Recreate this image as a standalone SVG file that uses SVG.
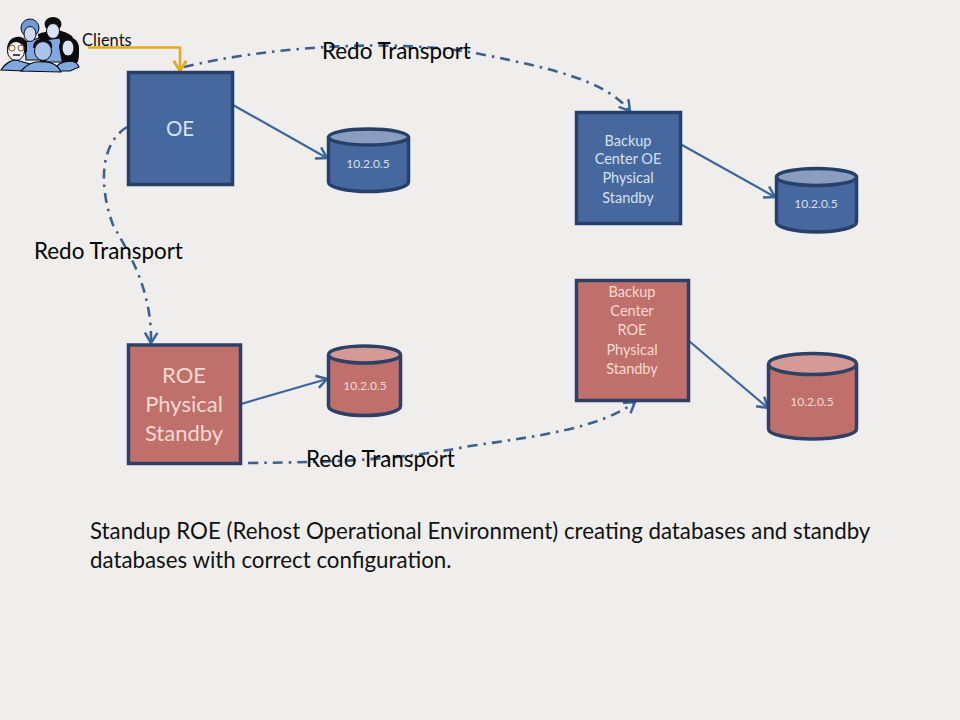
<svg xmlns="http://www.w3.org/2000/svg" width="960" height="720" viewBox="0 0 960 720">
<style>
text{font-family:"Lato","Open Sans","Liberation Sans",sans-serif}
.ml{text-anchor:middle}
.blue{fill:#46689f;stroke:#26406a;stroke-width:3.5}
.red{fill:#c0706a;stroke:#2e4067;stroke-width:3.5}
.bluetop{fill:#8b9dbf;stroke:#26406a;stroke-width:3.5}
.redtop{fill:#d69a96;stroke:#2e4067;stroke-width:3.5}
.lb{fill:#d5e0f0}
.lr{fill:#f6d9d2}
.big{font-size:22px}
.mid{font-size:14.5px}
.sm{font-size:12px}
.redo{font-size:22.4px;fill:#050505}
.solid{fill:none;stroke:#3c659c;stroke-width:2.2;marker-end:url(#open)}
.dash{fill:none;stroke:#3f5f8c;stroke-width:2.6;stroke-dasharray:10 6 2.500 6;marker-end:url(#open)}
.body{fill:#7fa8e0;stroke:#0b0b10;stroke-width:1.200}
.face{stroke:#0b0b10;stroke-width:1}
.hair{fill:#0b0b10}
</style>
<defs>
<marker id="open" markerUnits="userSpaceOnUse" markerWidth="16" markerHeight="16" refX="11" refY="7" orient="auto" viewBox="0 0 14 14"><path d="M2 1.500 L11 7 L2 12.500" fill="none" stroke="#3c659c" stroke-width="2.200"/></marker>
<marker id="gold" markerUnits="userSpaceOnUse" markerWidth="16" markerHeight="16" refX="11" refY="7" orient="auto" viewBox="0 0 14 14"><path d="M2 1.500 L11 7 L2 12.500" fill="none" stroke="#e2a81f" stroke-width="2.500"/></marker>
</defs>
<rect width="960" height="720" fill="#efeeec"/>

<g id="connectors">
<path class="dash" d="M184 67 C 270 46 400 38 480 54 C 550 68 605 80 630 111"/>
<path class="dash" d="M127 127 C 98 145 100 190 113 225 C 130 255 152 290 151 343"/>
<path class="dash" d="M248 463 C 340 462 400 460 470 446 C 540 436 600 428 635 402"/>
<path class="solid" d="M233 105 L327 158"/>
<path class="solid" d="M682 145 L775 197"/>
<path class="solid" d="M241 404 L327 379"/>
<path class="solid" d="M689 341 L768 408"/>
<path d="M88 47.500 H180 V71" fill="none" stroke="#e2a81f" stroke-width="2.500" marker-end="url(#gold)"/>
</g>

<g id="clients">
<path class="hair" d="M38 34 Q60 26 72 36 L79 52 L78 62 L40 62 Z"/>
<path class="body" d="M25 42 L40 38 L46 60 L26 60 Z"/>
<ellipse cx="30" cy="28" rx="9" ry="9" fill="#6f9bd8" stroke="#0b0b10"/>
<ellipse class="face" cx="30" cy="34" rx="6" ry="7.500" fill="#c9d8ee"/>
<path class="body" d="M44 40 L60 38 L66 62 L46 62 Z"/>
<ellipse class="hair" cx="53" cy="24" rx="8.500" ry="7"/>
<ellipse class="face" cx="53" cy="31" rx="6.500" ry="7.500" fill="#dbe3f0"/>
<path class="hair" d="M59 47 C59 36 77 33 79 47 C79 54 79 58 77 63 L62 63 Z"/>
<ellipse class="face" cx="68" cy="48" rx="6" ry="8" fill="#dfe5ee"/>
<path class="body" d="M55 70 C58 60 76 58 79 67 L70 71 L57 71 Z"/>
<path class="hair" d="M7 48 C8 35 24 33 27 43 L27 52 L8 54 Z"/>
<ellipse class="face" cx="16" cy="51" rx="8.500" ry="9.500" fill="#f0f0ee"/>
<circle cx="12" cy="48" r="3" fill="none" stroke="#8a5a30" stroke-width="1"/>
<circle cx="21" cy="48" r="3" fill="none" stroke="#8a5a30" stroke-width="1"/>
<path d="M13 55 H20" stroke="#111" stroke-width="1.500"/>
<path class="body" d="M1 70 C5 63 12 60 16 60 L30 64 L24 71 Z"/>
<path class="hair" d="M33 48 C33 40 38 39 43 39 C48 39 53 41 52 48 Z"/>
<ellipse class="face" cx="43" cy="51" rx="8.500" ry="9.500" fill="#a9c4ea"/>
<path class="body" d="M21 71 C28 63 36 61 43 62 C50 61 58 65 61 72 Z"/>
</g>
<text x="82" y="46" font-size="16.500" fill="#111">Clients</text>

<g id="oe"><rect class="blue" x="128.500" y="72.500" width="104" height="112"/>
<text class="lb ml" x="180" y="136" font-size="20.500">OE</text></g>

<g id="db-oe"><path class="blue" d="M328.500 137 V182 A40 9.500 0 0 0 408.500 182 V137"/>
<ellipse class="bluetop" cx="368.500" cy="137" rx="40" ry="8"/>
<text class="sm lb ml" x="368" y="168">10.2.0.5</text></g>

<g id="backup-oe"><rect class="blue" x="576.500" y="112.500" width="104" height="111"/>
<g class="mid lb ml"><text x="628" y="146">Backup</text><text x="628" y="164">Center OE</text><text x="628" y="183">Physical</text><text x="628" y="203">Standby</text></g></g>

<g id="db-backup-oe"><path class="blue" d="M776.500 177 V222 A40 10 0 0 0 856.500 222 V177"/>
<ellipse class="bluetop" cx="816.500" cy="177" rx="40" ry="8.500"/>
<text class="sm lb ml" x="816" y="208">10.2.0.5</text></g>

<g id="roe"><rect class="red" x="128.500" y="345" width="112" height="118.500"/>
<g class="big lr ml"><text x="184" y="383">ROE</text><text x="184" y="412">Physical</text><text x="184" y="441">Standby</text></g></g>

<g id="db-roe"><path class="red" d="M328.500 355 V406 A36 9.500 0 0 0 400.500 406 V355"/>
<ellipse class="redtop" cx="364.500" cy="354.500" rx="36" ry="8.500"/>
<text class="sm lr ml" x="365" y="390">10.2.0.5</text></g>

<g id="backup-roe"><rect class="red" x="576.500" y="280.500" width="112" height="120"/>
<g class="mid lr ml"><text x="632" y="297">Backup</text><text x="632" y="316">Center</text><text x="632" y="335">ROE</text><text x="632" y="355">Physical</text><text x="632" y="374">Standby</text></g></g>

<g id="db-backup-roe"><path class="red" d="M768.500 364 V429 A44 10 0 0 0 856.500 429 V364"/>
<ellipse class="redtop" cx="812.500" cy="364" rx="44" ry="10.500"/>
<text class="sm lr ml" x="812" y="406">10.2.0.5</text></g>

<text class="redo" x="322" y="59">Redo Transport</text>
<text class="redo" x="34" y="259">Redo Transport</text>
<text class="redo" x="306" y="467">Redo Transport</text>
<text x="90" y="539" font-size="22.300" fill="#111">Standup ROE (Rehost Operational Environment) creating databases and standby</text>
<text x="90" y="568" font-size="22.300" fill="#111">databases with correct configuration.</text>
</svg>
